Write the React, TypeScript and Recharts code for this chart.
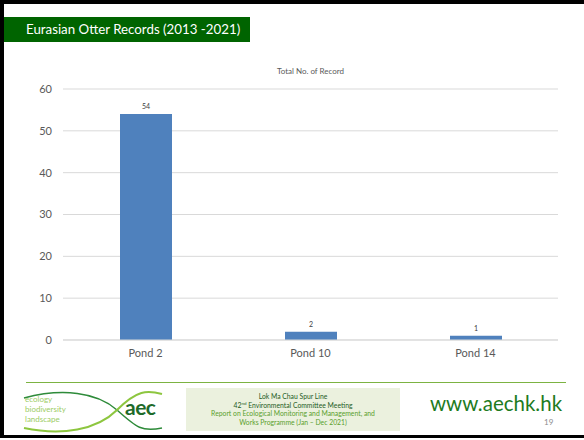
import React from 'react';
import { BarChart, Bar, XAxis, YAxis, CartesianGrid, LabelList } from 'recharts';

const ponds = ['Pond 2', 'Pond 10', 'Pond 14'];
const records = [54, 2, 1];
const yTicks = [0, 10, 20, 30, 40, 50, 60];

const data = ponds.map((name, i) => ({ name, total: records[i] }));

const font = 'Lato, "Open Sans", sans-serif';

export default function App() {
	return (
		<div
			style={{
				position: 'absolute',
				left: 0,
				top: 0,
				width: 584,
				height: 440,
				background: '#fff',
				fontFamily: font,
				overflow: 'hidden',
			}}
		>
			{/* slide frame */}
			<div style={{ position: 'absolute', left: 0, top: 0, width: 584, height: 4, background: '#000' }} />
			<div style={{ position: 'absolute', left: 0, top: 0, width: 4, height: 438, background: '#000' }} />
			<div style={{ position: 'absolute', left: 0, top: 435, width: 584, height: 3, background: '#000' }} />

			{/* header */}
			<div
				style={{
					position: 'absolute',
					left: 4,
					top: 17,
					width: 246,
					height: 25,
					background: '#006400',
					color: '#fff',
					fontSize: 13.3,
					lineHeight: '25px',
					paddingLeft: 22,
					boxSizing: 'border-box',
					whiteSpace: 'nowrap',
				}}
			>
				Eurasian Otter Records (2013 -2021)
			</div>

			<div
				style={{
					position: 'absolute',
					left: 63,
					width: 495,
					top: 66,
					textAlign: 'center',
					fontSize: 8,
					color: '#595959',
				}}
			>
				Total No. of Record
			</div>

			<div style={{ position: 'absolute', left: 0, top: 0 }}>
				<BarChart
					width={584}
					height={440}
					data={data}
					margin={{ top: 89, right: 26, bottom: 70, left: 0 }}
				>
					<CartesianGrid vertical={false} stroke='#d9d9d9' />
					<XAxis
						dataKey='name'
						height={30}
						axisLine={{ stroke: '#d9d9d9' }}
						tickLine={false}
						tick={{ fill: '#595959', fontSize: 11, fontFamily: font }}
						tickSize={6}
						tickMargin={3}
					/>
					<YAxis
						width={63}
						domain={[0, 60]}
						ticks={yTicks}
						axisLine={false}
						tickLine={false}
						tickSize={8}
						tickMargin={3}
						tick={{ fill: '#595959', fontSize: 11, fontFamily: font }}
					/>
					<Bar dataKey='total' fill='#4f81bd' barSize={52} isAnimationActive={false}>
						<LabelList
							dataKey='total'
							position='top'
							offset={5}
							style={{ fill: '#404040', fontSize: 7, fontFamily: font }}
						/>
					</Bar>
				</BarChart>
			</div>

			{/* footer */}
			<div style={{ position: 'absolute', left: 26, top: 382, width: 540, height: 1, background: '#7cb342' }} />

			<svg style={{ position: 'absolute', left: 22, top: 388 }} width={145} height={46}>
				<path d='M2 10 C 40 0, 75 4, 95 22 S 120 44, 140 40' fill='none' stroke='#2e8b3a' strokeWidth={1.5} />
				<path d='M2 40 C 40 48, 75 42, 95 22 S 125 2, 140 6' fill='none' stroke='#8dc63f' strokeWidth={2} />
			</svg>
			<div
				style={{
					position: 'absolute',
					left: 25,
					top: 394,
					fontSize: 8,
					lineHeight: '10px',
					color: '#9ccc65',
				}}
			>
				ecology
				<br />
				biodiversity
				<br />
				landscape
			</div>
			<div
				style={{
					position: 'absolute',
					left: 125,
					top: 394,
					fontSize: 21,
					fontWeight: 700,
					color: '#1e6b2a',
					letterSpacing: -0.5,
				}}
			>
				aec
			</div>

			<div
				style={{
					position: 'absolute',
					left: 186,
					top: 388,
					width: 214,
					height: 43,
					background: '#ebf1de',
					textAlign: 'center',
					fontSize: 6.8,
					lineHeight: '8.7px',
					paddingTop: 4,
					boxSizing: 'border-box',
				}}
			>
				<div style={{ color: '#1e5c1e' }}>Lok Ma Chau Spur Line</div>
				<div style={{ color: '#1e5c1e' }}>
					42<sup style={{ fontSize: 4.5, lineHeight: 0 }}>nd</sup> Environmental Committee Meeting
				</div>
				<div style={{ color: '#5aa02c' }}>Report on Ecological Monitoring and Management, and</div>
				<div style={{ color: '#5aa02c' }}>Works Programme (Jan – Dec 2021)</div>
			</div>

			<div
				style={{
					position: 'absolute',
					left: 430,
					top: 391,
					fontSize: 20.5,
					color: '#1e7b1e',
					whiteSpace: 'nowrap',
				}}
			>
				www.aechk.hk
			</div>
			<div style={{ position: 'absolute', left: 544, top: 417, fontSize: 8, color: '#8c8c8c' }}>19</div>
		</div>
	);
}
